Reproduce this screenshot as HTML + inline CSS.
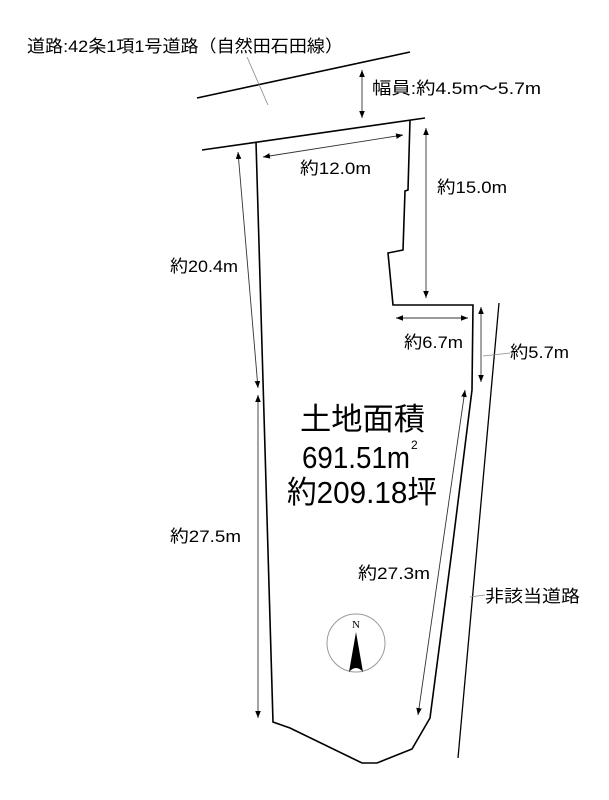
<!DOCTYPE html>
<html><head><meta charset="utf-8"><style>
html,body{margin:0;padding:0;background:#fff;}
svg{display:block;}
text{font-family:"Liberation Sans","Noto Sans CJK JP",sans-serif;fill:#000;}
</style></head><body>
<svg width="609" height="800" viewBox="0 0 609 800" xmlns="http://www.w3.org/2000/svg">
<defs>
<marker id="a" viewBox="0 0 10 10" refX="10" refY="5" markerWidth="7" markerHeight="7" orient="auto-start-reverse" markerUnits="userSpaceOnUse"><path d="M0,1 L10,5 L0,9 z" fill="#000"/></marker>
</defs>
<g stroke="#000" fill="none">
<line x1="197" y1="98" x2="410" y2="52" stroke-width="1.6"/>
<line x1="202" y1="150" x2="425" y2="118" stroke-width="1.6"/>
<polyline points="256,142 273,722 290,728 362,763 377,763 412,749 430,718 452,550 472,390 473,305 393,305 388,253 403,250 405,191 408,190 410,120" stroke-width="1.6"/>
<line x1="499" y1="303" x2="458" y2="758" stroke-width="1.3"/>
</g>
<g stroke="#333" stroke-width="0.9" fill="none">
<line x1="362" y1="70" x2="362" y2="118" marker-start="url(#a)" marker-end="url(#a)"/>
<line x1="263" y1="157" x2="403" y2="135" marker-start="url(#a)" marker-end="url(#a)"/>
<line x1="426" y1="128" x2="426" y2="298" marker-start="url(#a)" marker-end="url(#a)"/>
<line x1="238" y1="152" x2="258" y2="388" marker-start="url(#a)" marker-end="url(#a)"/>
<line x1="258" y1="395" x2="258" y2="718" marker-start="url(#a)" marker-end="url(#a)"/>
<line x1="396" y1="318" x2="468" y2="318" marker-start="url(#a)" marker-end="url(#a)"/>
<line x1="481" y1="307" x2="481" y2="382" marker-start="url(#a)" marker-end="url(#a)"/>
<line x1="465" y1="390" x2="418" y2="715" marker-start="url(#a)" marker-end="url(#a)"/>
</g>
<g stroke="#888" stroke-width="0.8">
<line x1="247" y1="57" x2="268" y2="105"/>
<line x1="483" y1="356" x2="510" y2="353"/>
<line x1="470" y1="597" x2="485" y2="595"/>
</g>
<circle cx="356" cy="643" r="29" fill="none" stroke="#999" stroke-width="1"/>
<path d="M356,632 L363,672 Q356,664 349,672 Z" fill="#000"/>
<text x="356" y="628" font-size="11" text-anchor="middle" style="font-family:'Liberation Serif',serif">N</text>
<g font-size="17" lengthAdjust="spacingAndGlyphs">
<text x="27" y="52" textLength="316" lengthAdjust="spacingAndGlyphs">道路:42条1項1号道路（自然田石田線）</text>
<text x="372" y="94" textLength="169" lengthAdjust="spacingAndGlyphs">幅員:約4.5m～5.7m</text>
<text x="300" y="174" textLength="71" lengthAdjust="spacingAndGlyphs">約12.0m</text>
<text x="437" y="193" textLength="70" lengthAdjust="spacingAndGlyphs">約15.0m</text>
<text x="170" y="272" textLength="68" lengthAdjust="spacingAndGlyphs">約20.4m</text>
<text x="404" y="348" textLength="59" lengthAdjust="spacingAndGlyphs">約6.7m</text>
<text x="510" y="358" textLength="59" lengthAdjust="spacingAndGlyphs">約5.7m</text>
<text x="170" y="542" textLength="71" lengthAdjust="spacingAndGlyphs">約27.5m</text>
<text x="358" y="579" textLength="72" lengthAdjust="spacingAndGlyphs">約27.3m</text>
<text x="485" y="602" textLength="95" lengthAdjust="spacingAndGlyphs">非該当道路</text>
</g>
<g font-size="31">
<text x="300" y="430" textLength="125" lengthAdjust="spacingAndGlyphs">土地面積</text>
<text x="302" y="468" textLength="108" lengthAdjust="spacingAndGlyphs">691.51m</text>
<text x="411" y="449" font-size="12">2</text>
<text x="287" y="503" textLength="150" lengthAdjust="spacingAndGlyphs">約209.18坪</text>
</g>
</svg>
</body></html>
